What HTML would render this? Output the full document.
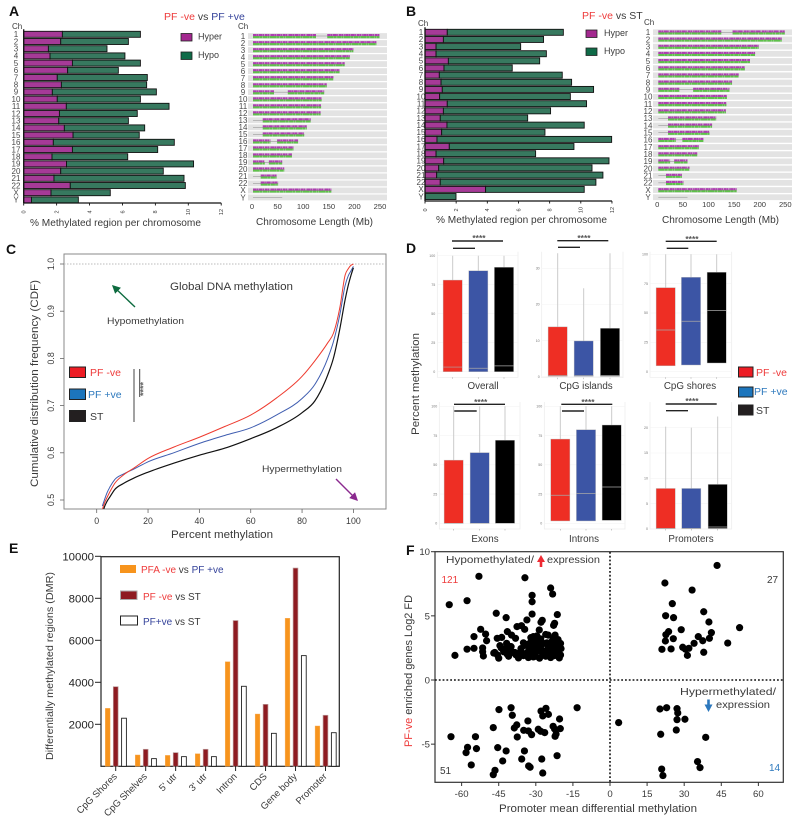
<!DOCTYPE html>
<html lang="en">
<head>
<meta charset="utf-8">
<title>DNA methylation figure</title>
<style>
html,body{margin:0;padding:0;background:#fff;width:800px;height:821px;overflow:hidden}
svg{display:block;font-family:"Liberation Sans",sans-serif}
text{fill:#3a3a3a}
.red{fill:#ee3a3a}.blue{fill:#34429a}.lblue{fill:#2c78bd}
.letter{font-weight:bold;font-size:14px;fill:#111}
</style>
</head>
<body>
<svg id="fig" width="800" height="821" viewBox="0 0 800 821" xmlns="http://www.w3.org/2000/svg">
<defs>
<marker id="ah-green" markerWidth="7" markerHeight="7" refX="5" refY="3" orient="auto"><path d="M0,0 L6,3 L0,6 Z" fill="#0d6b3f"/></marker>
<marker id="ah-purple" markerWidth="7" markerHeight="7" refX="5" refY="3" orient="auto"><path d="M0,0 L6,3 L0,6 Z" fill="#8b2a8f"/></marker>
<clipPath id="cdf-clip"><rect x="64" y="254" width="322" height="255"/></clipPath>
</defs>

<!-- Panel A static text -->
<g id="panel-a">
<text class="letter" x="9" y="16">A</text>
<text x="164" y="20" font-size="10.5"><tspan class="red">PF -ve</tspan> vs <tspan class="blue">PF +ve</tspan></text>
<text x="12" y="29" font-size="8">Ch</text>
<text x="238" y="29" font-size="8">Ch</text>
<rect x="181" y="33.5" width="11" height="7.5" fill="#a3288f" stroke="#222" stroke-width=".8"/>
<text x="198" y="39.5" font-size="9">Hyper</text>
<rect x="181" y="52" width="11" height="7.5" fill="#0f6b48" stroke="#222" stroke-width=".8"/>
<text x="198" y="58" font-size="9">Hypo</text>
<text x="30" y="226" font-size="10.3" textLength="171" lengthAdjust="spacingAndGlyphs">% Methylated region per chromosome</text>
<text x="256" y="225" font-size="10.3" textLength="117" lengthAdjust="spacingAndGlyphs">Chromosome Length (Mb)</text>
</g>

<!-- Panel B static text -->
<g id="panel-b">
<text class="letter" x="406" y="16">B</text>
<text x="582" y="19" font-size="10.5"><tspan class="red">PF -ve</tspan> vs ST</text>
<text x="418" y="26" font-size="8">Ch</text>
<text x="644" y="25" font-size="8">Ch</text>
<rect x="586" y="30" width="11" height="7.5" fill="#a3288f" stroke="#222" stroke-width=".8"/>
<text x="604" y="36" font-size="9">Hyper</text>
<rect x="586" y="48" width="11" height="7.5" fill="#0f6b48" stroke="#222" stroke-width=".8"/>
<text x="604" y="54" font-size="9">Hypo</text>
<text x="436" y="223" font-size="10.3" textLength="171" lengthAdjust="spacingAndGlyphs">% Methylated region per chromosome</text>
<text x="662" y="223" font-size="10.3" textLength="117" lengthAdjust="spacingAndGlyphs">Chromosome Length (Mb)</text>
</g>

<!-- Panel C static -->
<g id="panel-c">
<text class="letter" x="6" y="254">C</text>
<rect x="64" y="254" width="322" height="255" fill="none" stroke="#8a8a8a" stroke-width="1"/>
<line x1="64" y1="264" x2="386" y2="264" stroke="#bbb" stroke-width="1" stroke-dasharray="1.5 1.5"/>
<text transform="translate(38,487) rotate(-90)" font-size="11" textLength="207" lengthAdjust="spacingAndGlyphs">Cumulative distribution frequency (CDF)</text>
<text x="171" y="538" font-size="11.2" textLength="102" lengthAdjust="spacingAndGlyphs">Percent methylation</text>
<text x="170" y="290" font-size="11.2" textLength="123" lengthAdjust="spacingAndGlyphs">Global DNA methylation</text>
<text x="107" y="324" font-size="8.8" textLength="77" lengthAdjust="spacingAndGlyphs">Hypomethylation</text>
<line x1="135" y1="307" x2="113" y2="286" stroke="#0d6b3f" stroke-width="1.4" marker-end="url(#ah-green)"/>
<text x="262" y="472" font-size="8.8" textLength="80" lengthAdjust="spacingAndGlyphs">Hypermethylation</text>
<line x1="336" y1="479" x2="357" y2="500" stroke="#8b2a8f" stroke-width="1.4" marker-end="url(#ah-purple)"/>
<rect x="69.5" y="367" width="16" height="10.5" fill="#ed1c24" stroke="#222" stroke-width="1"/>
<rect x="69.5" y="389" width="16" height="10.5" fill="#1c75bc" stroke="#222" stroke-width="1"/>
<rect x="69.5" y="410.5" width="16" height="11" fill="#231f20" stroke="#222" stroke-width="1"/>
<text class="red" x="90" y="376" font-size="10.5">PF -ve</text>
<text class="lblue" x="88" y="398" font-size="10.5">PF +ve</text>
<text x="90" y="420" font-size="10.5">ST</text>
<line x1="134" y1="369" x2="134" y2="422" stroke="#444" stroke-width="1"/>
<line x1="139.7" y1="369" x2="139.7" y2="397" stroke="#444" stroke-width="1"/>
<text transform="translate(146.5,396) rotate(-90)" font-size="9" font-weight="bold" style="fill:#666">****</text>
</g>

<!-- Panel D static -->
<g id="panel-d">
<text class="letter" x="406" y="253">D</text>
<text transform="translate(419,435) rotate(-90)" font-size="11" textLength="102" lengthAdjust="spacingAndGlyphs">Percent methylation</text>
<rect x="738.5" y="367" width="14.5" height="10" fill="#ed1c24" stroke="#222" stroke-width="1"/>
<rect x="738.5" y="387" width="14.5" height="10" fill="#1c75bc" stroke="#222" stroke-width="1"/>
<rect x="738.5" y="405" width="14.5" height="10" fill="#231f20" stroke="#222" stroke-width="1"/>
<text class="red" x="756" y="376" font-size="10.5">PF -ve</text>
<text class="lblue" x="754" y="395" font-size="10.5">PF +ve</text>
<text x="756" y="414" font-size="10.5">ST</text>
</g>

<!-- Panel E static -->
<g id="panel-e">
<text class="letter" x="9" y="553">E</text>
<rect x="101" y="556.7" width="238.3" height="209.6" fill="none" stroke="#222" stroke-width="1.2"/>
<text transform="translate(53,760) rotate(-90)" font-size="10.5" textLength="188" lengthAdjust="spacingAndGlyphs">Differentially methylated regions (DMR)</text>
<rect x="120" y="565" width="16" height="8" fill="#f7941d"/>
<text x="141" y="573" font-size="10"><tspan class="red">PFA -ve</tspan> vs <tspan class="blue">PF +ve</tspan></text>
<rect x="120.5" y="591" width="16.5" height="8.5" fill="#8e1b21" stroke="#aaa" stroke-width="1"/>
<text x="143" y="600" font-size="10"><tspan class="red">PF -ve</tspan> vs ST</text>
<rect x="120.5" y="616" width="17" height="9" fill="#fff" stroke="#222" stroke-width="1"/>
<text x="143" y="625" font-size="10"><tspan class="blue">PF+ve</tspan> vs ST</text>
</g>

<!-- Panel F static -->
<g id="panel-f">
<text class="letter" x="406" y="555">F</text>
<rect x="435" y="551.7" width="348.3" height="230.6" fill="none" stroke="#333" stroke-width="1.2"/>
<line x1="435" y1="680" x2="783" y2="680" stroke="#111" stroke-width="1.6" stroke-dasharray="1.8 2"/>
<line x1="610" y1="552" x2="610" y2="782" stroke="#111" stroke-width="1.6" stroke-dasharray="1.8 2"/>
<text transform="translate(412,747) rotate(-90)" font-size="10.8" textLength="152" lengthAdjust="spacingAndGlyphs"><tspan class="red">PF-ve</tspan> enriched genes Log2 FD</text>
<text x="499" y="812" font-size="10.8" textLength="198" lengthAdjust="spacingAndGlyphs">Promoter mean differential methylation</text>
<text x="446" y="563" font-size="10.5" textLength="88" lengthAdjust="spacingAndGlyphs">Hypomethylated/</text>
<path d="M541,555 L545,562 L542.3,562 L542.3,567 L539.7,567 L539.7,562 L537,562 Z" fill="#ee2a32"/>
<text x="547" y="563" font-size="10.5" textLength="53" lengthAdjust="spacingAndGlyphs">expression</text>
<text class="red" x="441.5" y="583" font-size="10">121</text>
<text x="767" y="583" font-size="10">27</text>
<text x="440" y="774" font-size="10">51</text>
<text class="lblue" x="769" y="771" font-size="10">14</text>
<text x="680" y="695" font-size="10.5" textLength="96" lengthAdjust="spacingAndGlyphs">Hypermethylated/</text>
<path d="M708.5,712 L712.5,704.5 L709.8,704.5 L709.8,699.5 L707.2,699.5 L707.2,704.5 L704.5,704.5 Z" fill="#2c78bd"/>
<text x="716" y="708" font-size="10.5" textLength="54" lengthAdjust="spacingAndGlyphs">expression</text>
</g>

<script>
/* ---------- Panels A / B data ---------- */
const chromNames = ['1','2','3','4','5','6','7','8','9','10','11','12','13','14','15','16','17','18','19','20','21','22','X','Y'];
const hyperA = [2.35,2.25,1.5,1.6,2.96,2.67,2.04,2.29,1.74,2.04,2.59,2.17,2.13,2.47,3.0,1.8,2.96,1.72,2.6,2.25,1.84,2.83,1.66,0.47];
const hypoA = [4.74,4.11,3.56,4.55,4.13,3.08,5.47,5.18,6.32,5.05,6.24,4.73,4.23,4.88,4.02,7.35,5.18,4.6,7.72,6.23,7.9,6.99,3.6,2.85];
const hyperB = [1.43,1.18,0.71,0.71,1.5,1.22,0.92,1.03,1.11,0.94,1.43,1.18,0.98,1.41,1.07,0.77,1.56,0.71,1.2,0.88,0.75,0.98,3.89,0.02];
const hypoB = [7.45,6.43,5.43,7.08,5.86,4.38,7.89,8.38,9.71,8.39,8.94,6.88,5.61,8.81,6.63,11.21,8.0,6.39,10.61,9.84,10.67,9.99,6.33,1.97];
const percentTicks = [0,2,4,6,8,10,12];
const chromLengths = [249,243,198,191,181,171,159,146,141,136,135,134,115,107,102,90,81,78,59,63,48,51,155,59];
const gapStarts = [125,0,0,0,0,0,0,0,43,0,0,0,0,0,0,36,0,0,25,0,0,0,0,0];
const gapEnds = [145,0,0,0,0,0,0,0,68,0,0,0,19,19,19,47,0,0,31,0,15,15,0,59];
const lengthTicks = [0,50,100,150,200,250];

/* ---------- Panel C data ---------- */
const cdfPercent = [2.2,3,4,5.2,7,10.4,14.3,20,30,40,50,60,70,80,85,90,92.2,94.8,96.8,98,99,100];
const cdfPfNeg = [0.48,0.493,0.505,0.518,0.535,0.553,0.567,0.588,0.612,0.633,0.656,0.68,0.716,0.762,0.795,0.833,0.853,0.91,0.977,0.99,0.997,1.0];
const cdfPfPos = [0.487,0.5,0.515,0.528,0.543,0.555,0.565,0.581,0.6,0.62,0.637,0.653,0.68,0.715,0.745,0.8,0.835,0.895,0.955,0.975,0.985,0.995];
const cdfSt = [0.47,0.485,0.497,0.507,0.522,0.535,0.546,0.559,0.578,0.595,0.61,0.63,0.653,0.685,0.71,0.765,0.8,0.865,0.925,0.955,0.975,0.992];
const cdfXTicks = [0,20,40,60,80,100];
const cdfYTicks = ['0.5','0.6','0.7','0.8','0.9','1.0'];

/* ---------- Panel D data (PF-ve, PF+ve, ST) ---------- */
const boxPanels = ['Overall','CpG islands','CpG shores','Exons','Introns','Promoters'];
const boxQ1 = [[0,0,0],[0.1,0.1,0.1],[5,5.7,7.4],[0,0,0],[2,2,2.5],[0.1,0.1,0.1]];
const boxMedian = [[4,3,5],[0.3,0.3,0.3],[35.5,43,52],[0,0,0],[24,25.6,31],[0.1,0.1,0.4]];
const boxQ3 = [[79,87,90],[13.8,9.9,13.4],[71.6,80.4,84.7],[54,60.4,71],[72,80,84],[8,8,8.8]];
const boxWhisker = [[100,100,100],[34.2,24.5,34.2],[100,100,100],[100,100,100],[100,100,100],[20.2,20,22.2]];
const boxTicks = [[0,25,50,75,100],[0,10,20,30],[0,25,50,75,100],[0,25,50,75,100],[0,25,50,75,100],[0,5,10,15,20]];

/* ---------- Panel E data ---------- */
const dmrCategories = ['CpG Shores','CpG Shelves',"5' utr","3' utr",'Intron','CDS','Gene body','Promoter'];
const dmrPfaVsPf = [2760,540,520,600,4980,2490,7050,1920];
const dmrPfVsSt = [3790,810,650,810,6940,2950,9440,2430];
const dmrPfpVsSt = [2290,365,460,460,3810,1570,5270,1600];
const dmrTicks = [2000,4000,6000,8000,10000];

/* ---------- Panel F data ---------- */
const hypoUpX = [-65,-57.8,-53,-34.4,-24,-23.2,-31.5,-31.5,-46,-31.5,-42,-21.3,-33.6,-27.4,-27.9,-22.4,-22.8,-37.6,-35.8,-34.5,-52.3,-50.3,-41.5,-28.6,-55,-49.9,-39.8,-38.2,-45.6,-43.8,-25,-22.2,-31,-29.6,-57.8,-55,-51.5,-51.5,-51.2,-62.7,-46.6,-44.5,-41.8,-40.4,
 -45,-41,-37,-35,-33,-31,-28.5,-26,-24,-22.5,-20.5,
 -47,-45.5,-43,-41.5,-39.5,-37.5,-36,-34,-32,-30.5,-29,-27,-25.5,-24,-23,-21.5,-20,
 -44,-42,-40,-36,-34.5,-32.5,-31,-30,-28,-24,-22.5,-21,-19.8,
 -35,-33,-31.5,-30,-29,-27,-23,-21.5,-20,-32,
 -32,-30.5,-29.5,-23,-21,
 -38,-33.5,-30,-26.5,-25,-22,-20.5,-43,-28.5,-27.5,-24.5,-23.5,-21.2,-30,-26,-31.5,-33,-28,-20.8,-25.5,-38.5];
const hypoUpY = [5.87,6.18,8.08,7.97,7.17,6.7,6.6,6.1,5.2,5.14,4.86,5.1,4.68,4.65,4.5,4.42,4.26,4.16,4.23,3.95,3.95,3.58,3.77,3.9,3.38,3.06,3.5,3.25,3.25,3.32,3.5,3.5,3.38,3.43,2.4,2.47,2.5,2.2,1.87,1.92,2.15,2.68,2.86,2.6,
 1.7,1.85,1.72,1.9,1.75,1.8,1.7,1.85,1.75,1.9,1.72,
 2.1,1.95,2.2,2.0,2.15,1.98,2.25,2.05,2.2,2.0,2.3,2.1,1.98,2.25,2.05,2.2,1.95,
 2.5,2.35,2.6,2.45,2.7,2.4,2.55,2.35,2.65,2.5,2.4,2.6,2.45,
 2.9,2.8,3.0,2.75,2.95,2.85,2.8,3.0,2.85,2.95,
 3.3,3.15,3.4,3.2,3.15,
 1.95,1.9,2.3,2.25,2.6,2.65,2.55,2.4,2.65,2.15,2.2,3.0,3.1,1.85,3.55,2.45,2.25,3.2,2.85,2.9,2.15];
const hyperUpX = [43.3,22.2,33.2,25.2,37.9,22.5,25.7,40,52.4,28.8,41,23.7,22.6,35.7,25.6,40.2,37.5,22.4,34,47.6,29.4,31.9,24.7,21,37.9,31.3,30.5];
const hyperUpY = [8.93,7.56,7.01,5.95,5.32,5.01,4.86,4.52,4.08,3.92,3.69,3.77,3.53,3.38,3.22,3.25,3.06,3.04,2.86,2.88,2.55,2.47,2.42,2.39,2.16,1.92,2.4];
const hypoDownX = [-13.3,-40,-44.9,-39.5,-25.9,-27.9,-24.9,-27.2,-20.4,-33.2,-37.7,-38.7,-47.2,-23,-22.4,-20.1,-29,-34.9,-33,-28,-26.4,-31.7,-21.8,-22.2,-37.5,-64.3,-54.4,-57.6,-45.4,-54,-42,-58.2,-34.6,-21.4,-35.7,-27.6,-43.4,-56.1,-32.9,-32.3,-46.5,-47.2,-27.2];
const hypoDownY = [-2.16,-2.16,-2.31,-2.75,-2.21,-2.42,-2.68,-2.8,-3.04,-3.19,-3.5,-3.74,-3.71,-3.61,-3.82,-3.79,-3.84,-3.92,-3.97,-4,-4.1,-4.26,-4.21,-4.39,-4.44,-4.42,-4.42,-5.25,-5.27,-5.35,-5.53,-5.66,-5.53,-5.9,-6.16,-6.16,-6.31,-6.62,-6.7,-6.8,-7.04,-7.38,-7.25];
const hyperDownX = [3.5,20.2,22.9,27.1,27.4,27.1,30.3,26.8,20.5,38.7,35.4,36.4,20.9,21.4];
const hyperDownY = [-3.32,-2.26,-2.16,-2.23,-2.57,-3.09,-3.06,-3.9,-4.23,-4.47,-6.36,-6.83,-6.94,-7.45];
const scatterXTicks = [-60,-45,-30,-15,0,15,30,45,60];
const scatterYTicks = [-5,0,5,10];

/* ---------- helpers ---------- */
const NS = 'http://www.w3.org/2000/svg';
function mk(tag, parent, attrs, content) {
  const n = document.createElementNS(NS, tag);
  for (const k in attrs) n.setAttribute(k, attrs[k]);
  if (content !== undefined) n.textContent = content;
  parent.appendChild(n);
  return n;
}
const fig = document.getElementById('fig');

/* ---------- stacked bars (A, B) ---------- */
function drawBars(parent, hyper, hypo, x0, unit, y0, step, axisY, labelX, prefix) {
  const sx = v => x0 + v * unit;
  const sy = i => y0 + i * step;
  chromNames.forEach((name, i) => {
    const h = mk('rect', parent, {x: sx(0), y: sy(i) - 3, width: sx(hyper[i]) - sx(0), height: 6, fill: '#a63a97', stroke: '#111', 'stroke-width': 0.9});
    
    
    const g = mk('rect', parent, {x: sx(hyper[i]), y: sy(i) - 3, width: sx(hypo[i]) - sx(0), height: 6, fill: '#37795f', stroke: '#111', 'stroke-width': 0.9});
    
    
    const t = mk('text', parent, {x: labelX, y: sy(i) + 2.8, 'font-size': 8, 'text-anchor': 'middle', style: 'fill:#4a4a4a'}, name);
    
    
  });
  const ax = mk('line', parent, {x1: sx(0), x2: sx(12), y1: axisY, y2: axisY, stroke: '#111', 'stroke-width': 1.3});
  
  
  const ay = mk('line', parent, {x1: sx(0), x2: sx(0), y1: sy(0) - 5, y2: axisY, stroke: '#111', 'stroke-width': 1.3});
  
  
  percentTicks.forEach(v => {
    const m = mk('line', parent, {x1: sx(v), x2: sx(v), y1: axisY, y2: axisY + 2.5, stroke: '#111', 'stroke-width': 0.9});
    
    
    const l = mk('text', parent, {transform: 'translate(' + (sx(v) + 1.8) + ',' + (axisY + 9) + ') rotate(-90)', 'font-size': 5.5, 'text-anchor': 'middle'}, v);
    
    
  });
}
const panelA = document.getElementById('panel-a');
const panelB = document.getElementById('panel-b');
drawBars(panelA, hyperA, hypoA, 23.7, 16.46, 34.3, 7.2, 203, 16, 'a');
drawBars(panelB, hyperB, hypoB, 425, 15.58, 32.3, 7.14, 201, 421, 'b');

/* ---------- chromosome tracks (A, B) ---------- */
const magentaDash = '3.4 .2 1.6 .35 4.1 .25 1.1 .5 2.6 .2 2 .45 .9 .3';
const greenDash = '6.5 .2 2.8 .35 4.4 .25 1.7 .3';
function drawTracks(parent, x0, unit, y0, step, bandLeft, bandRight, axisY, labelX, prefix) {
  const sx = v => x0 + v * unit;
  chromNames.forEach((name, i) => {
    const y = y0 + i * step;
    const band = mk('rect', parent, {x: bandLeft, y: y - 2.9, width: bandRight - bandLeft, height: 5.8, fill: '#e3e3e3'});
    
    
    const base = mk('line', parent, {x1: sx(0) + 1, x2: sx(chromLengths[i]), y1: y, y2: y, stroke: '#8a8a8a', 'stroke-width': 0.5});
    
    
    const spans = [[0, gapStarts[i]], [gapEnds[i], chromLengths[i]]];
    spans.forEach(s => {
      if (s[1] - s[0] < 1) return;
      const g = mk('line', parent, {x1: sx(s[0]) + 1, x2: sx(s[1]), y1: y + 1.1, y2: y + 1.1, stroke: '#5ec24a', 'stroke-width': 2.2, 'stroke-dasharray': greenDash});
      
      
      const h = mk('line', parent, {x1: sx(s[0]) + 1, x2: sx(s[1]), y1: y - 0.9, y2: y - 0.9, stroke: '#ad3fb0', 'stroke-width': 2.1, 'stroke-dasharray': magentaDash});
      
      
    });
    const t = mk('text', parent, {x: labelX, y: y + 2.8, 'font-size': 8, 'text-anchor': 'middle', style: 'fill:#4a4a4a'}, name);
    
    
  });
  lengthTicks.forEach(v => {
    const l = mk('text', parent, {x: sx(v), y: axisY, 'font-size': 7.6, 'text-anchor': 'middle'}, v);
    
    
  });
}
drawTracks(panelA, 252, 0.512, 36, 7.02, 248, 387, 209, 243, 'a');
drawTracks(panelB, 657.3, 0.512, 32.3, 7.17, 653, 792, 207, 648, 'b');

/* ---------- CDF (C) ---------- */
const panelC = document.getElementById('panel-c');
const cx = v => 96.7 + v * 2.567;
const cy = v => 264 + (1 - v) * 472;
function smooth(xs, ys) {
  const px = xs.map(cx), py = ys.map(cy), n = px.length;
  const slope = [];
  for (let i = 0; i < n; i++) {
    if (i === 0) { slope.push((py[1] - py[0]) / (px[1] - px[0])); continue; }
    if (i === n - 1) { slope.push((py[i] - py[i - 1]) / (px[i] - px[i - 1])); continue; }
    const h0 = px[i] - px[i - 1], h1 = px[i + 1] - px[i];
    const s0 = (py[i] - py[i - 1]) / h0, s1 = (py[i + 1] - py[i]) / h1;
    slope.push((s0 * h1 + s1 * h0) / (h0 + h1));
  }
  let d = 'M' + px[0] + ',' + py[0];
  for (let i = 0; i < n - 1; i++) {
    const h = (px[i + 1] - px[i]) / 3;
    d += ' C' + (px[i] + h) + ',' + (py[i] + slope[i] * h) + ' ' + (px[i + 1] - h) + ',' + (py[i + 1] - slope[i + 1] * h) + ' ' + px[i + 1] + ',' + py[i + 1];
  }
  return d;
}
const curveGroup = mk('g', panelC, {'clip-path': 'url(#cdf-clip)', fill: 'none'});


const curvePos = mk('path', curveGroup, {d: smooth(cdfPercent, cdfPfPos), stroke: '#3f5db0', 'stroke-width': 1});


const curveSt = mk('path', curveGroup, {d: smooth(cdfPercent, cdfSt), stroke: '#111', 'stroke-width': 1.2});


const curveNeg = mk('path', curveGroup, {d: smooth(cdfPercent, cdfPfNeg), stroke: '#ee3a2e', 'stroke-width': 1});


cdfXTicks.forEach(v => {
  const m = mk('line', panelC, {x1: cx(v), x2: cx(v), y1: 509, y2: 513, stroke: '#666', 'stroke-width': 0.8});
  
  
  const l = mk('text', panelC, {x: cx(v), y: 524, 'font-size': 8.8, 'text-anchor': 'middle'}, v);
  
  
});
cdfYTicks.forEach(v => {
  const m = mk('line', panelC, {x1: 60, x2: 64, y1: cy(+v), y2: cy(+v), stroke: '#666', 'stroke-width': 0.8});
  
  
  const l = mk('text', panelC, {transform: 'translate(54,' + cy(+v) + ') rotate(-90)', 'font-size': 8.8, 'text-anchor': 'middle'}, v);
  
  
});

/* ---------- Box panels (D) ---------- */
const panelD = document.getElementById('panel-d');
const boxColors = ['#ee2e24', '#3c55a5', '#000000'];
const boxLayout = [
  {left: 437.3, right: 518, top: 251.7, bottom: 377.3, y0: 371.7, pxPerUnit: 1.16, c: [452.7, 478.3, 504], titleX: 483, titleY: 389, sigLong: [452, 503, 241], sigShort: [453, 475, 248.3], starX: 479, starY: 241},
  {left: 541.7, right: 623, top: 251.7, bottom: 377.7, y0: 376.7, pxPerUnit: 3.61, c: [557.7, 583.7, 610], titleX: 586, titleY: 389, sigLong: [557.3, 608.3, 240.7], sigShort: [558, 580, 247.3], starX: 584, starY: 241},
  {left: 650, right: 731.7, top: 251.7, bottom: 377.3, y0: 371.7, pxPerUnit: 1.174, c: [665.7, 691, 716.7], titleX: 690, titleY: 389, sigLong: [665.7, 716.7, 241.3], sigShort: [666.7, 688.3, 248.3], starX: 692, starY: 242},
  {left: 439.3, right: 520, top: 402, bottom: 529, y0: 523.3, pxPerUnit: 1.17, c: [453.7, 479.7, 505], titleX: 485, titleY: 542, sigLong: [454, 505, 404.3], sigShort: [454.3, 476.7, 411], starX: 480.7, starY: 405},
  {left: 544.3, right: 625, top: 402, bottom: 529, y0: 523.3, pxPerUnit: 1.17, c: [560.3, 586, 611.7], titleX: 584, titleY: 542, sigLong: [561.3, 612.3, 404.3], sigShort: [562, 584, 411], starX: 588, starY: 405},
  {left: 650, right: 731.7, top: 402, bottom: 529, y0: 529, pxPerUnit: 5.067, c: [665.7, 691.3, 717.7], titleX: 691, titleY: 542, sigLong: [665.7, 716.7, 404], sigShort: [666, 688, 410.7], starX: 692, starY: 404}
];
boxPanels.forEach((name, p) => {
  const L = boxLayout[p];
  const sy = v => L.y0 - v * L.pxPerUnit;
  const g = mk('g', panelD, {});
  
  
  const frame = mk('path', g, {d: 'M' + L.left + ',' + L.top + ' V' + L.bottom + ' H' + L.right + ' V' + L.top, fill: 'none', stroke: '#ececec', 'stroke-width': 0.7});
  
  
  boxTicks[p].forEach(v => {
    const gl = mk('line', g, {x1: L.left, x2: L.right, y1: sy(v), y2: sy(v), stroke: '#f4f4f4', 'stroke-width': 0.6});
    
    
    const tl = mk('text', g, {x: L.left - 2, y: sy(v) + 1.2, 'font-size': 3.6, 'text-anchor': 'end', style: 'fill:#777'}, v);
    
    
  });
  boxColors.forEach((color, s) => {
    const cxp = L.c[s];
    const wh = mk('line', g, {x1: cxp, x2: cxp, y1: sy(boxWhisker[p][s]), y2: sy(boxQ3[p][s]), stroke: '#c6c6c6', 'stroke-width': 0.9});
    
    
    const r = mk('rect', g, {x: cxp - 9.6, y: sy(boxQ3[p][s]), width: 19.2, height: sy(boxQ1[p][s]) - sy(boxQ3[p][s]), fill: color, stroke: '#bbb', 'stroke-width': 0.4});
    
    
    const md = mk('line', g, {x1: cxp - 9.6, x2: cxp + 9.6, y1: sy(boxMedian[p][s]), y2: sy(boxMedian[p][s]), stroke: '#a8a8a8', 'stroke-width': 0.7});
    
    
    const tk = mk('line', g, {x1: cxp, x2: cxp, y1: L.bottom, y2: L.bottom + 1.5, stroke: '#999', 'stroke-width': 0.5});
    
    
  });
  const s1 = mk('line', g, {x1: L.sigLong[0], x2: L.sigLong[1], y1: L.sigLong[2], y2: L.sigLong[2], stroke: '#222', 'stroke-width': 1.4});
  
  
  const s2 = mk('line', g, {x1: L.sigShort[0], x2: L.sigShort[1], y1: L.sigShort[2], y2: L.sigShort[2], stroke: '#222', 'stroke-width': 1.4});
  
  
  const st = mk('text', g, {x: L.starX, y: L.starY, 'font-size': 8.5, 'font-weight': 'bold', 'text-anchor': 'middle', style: 'fill:#555'}, '****');
  
  
  const tt = mk('text', g, {x: L.titleX, y: L.titleY, 'font-size': 9.8, 'text-anchor': 'middle'}, name);
  
  
});

/* ---------- DMR bars (E) ---------- */
const panelE = document.getElementById('panel-e');
const ey = v => 766.3 - v * 0.021;
const ex = i => 115.7 + i * 29.97;
const dmrStyles = [
  {vals: dmrPfaVsPf, off: -8, fill: '#f7941d', stroke: '#f7b060', sw: 0.4, name: 'pfa-vs-pf'},
  {vals: dmrPfVsSt, off: 0, fill: '#8e1b21', stroke: '#b99', sw: 0.7, name: 'pf-vs-st'},
  {vals: dmrPfpVsSt, off: 8.3, fill: '#fff', stroke: '#222', sw: 0.9, name: 'pfp-vs-st'}
];
dmrCategories.forEach((cat, i) => {
  dmrStyles.forEach(s => {
    const r = mk('rect', panelE, {x: ex(i) + s.off - 2.4, y: ey(s.vals[i]), width: 4.8, height: ey(0) - ey(s.vals[i]), fill: s.fill, stroke: s.stroke, 'stroke-width': s.sw});
    
    
  });
  const m = mk('line', panelE, {x1: ex(i), x2: ex(i), y1: 766, y2: 771, stroke: '#222', 'stroke-width': 1});
  
  
  const t = mk('text', panelE, {transform: 'translate(' + (ex(i) + 2) + ',777) rotate(-45)', 'font-size': 9.6, 'text-anchor': 'end'}, cat);
  
  
});
dmrTicks.forEach(v => {
  const m = mk('line', panelE, {x1: 95, x2: 101, y1: ey(v), y2: ey(v), stroke: '#222', 'stroke-width': 1});
  
  
  const l = mk('text', panelE, {x: 94, y: ey(v) + 4, 'font-size': 11.4, 'text-anchor': 'end', style: 'fill:#222'}, v);
  
  
});

/* ---------- Scatter (F) ---------- */
const panelF = document.getElementById('panel-f');
const fx = v => 610 + v * 2.473;
const fy = v => 680 - v * 12.83;
[[hypoUpX, hypoUpY, 'hypo-up'], [hyperUpX, hyperUpY, 'hyper-up'], [hypoDownX, hypoDownY, 'hypo-down'], [hyperDownX, hyperDownY, 'hyper-down']].forEach(q => {
  q[0].forEach((x, i) => {
    const c = mk('circle', panelF, {cx: fx(x), cy: fy(q[1][i]), r: 3.6, fill: '#000'});
    
    
  });
});
scatterXTicks.forEach(v => {
  const m = mk('line', panelF, {x1: fx(v), x2: fx(v), y1: 782, y2: 786, stroke: '#333', 'stroke-width': 1});
  
  
  const l = mk('text', panelF, {x: fx(v), y: 797, 'font-size': 9.6, 'text-anchor': 'middle'}, v);
  
  
});
scatterYTicks.forEach(v => {
  const m = mk('line', panelF, {x1: 431, x2: 435, y1: fy(v), y2: fy(v), stroke: '#333', 'stroke-width': 1});
  
  
  const l = mk('text', panelF, {x: 430, y: fy(v) + 3.5, 'font-size': 9.6, 'text-anchor': 'end'}, v);
  
  
});
</script>
</svg>
</body>
</html>
